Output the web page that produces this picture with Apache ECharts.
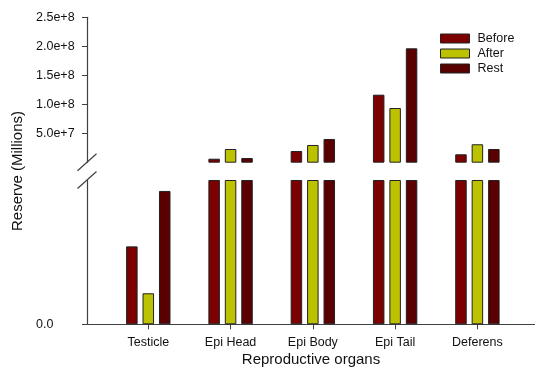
<!DOCTYPE html>
<html><head><meta charset="utf-8">
<script src="https://cdn.jsdelivr.net/npm/echarts@6/dist/echarts.min.js"></script>
<style>html,body{margin:0;padding:0;background:#fff}#c{width:535px;height:377px}</style>
</head><body><div id="c"></div>
<script>
// ---- data ----
const categories = ['Testicle', 'Epi Head', 'Epi Body', 'Epi Tail', 'Deferens'];
const seriesNames = ['Before', 'After', 'Rest'];
const before = [5.4e5, 7.0e6, 2.02e7, 1.17e8, 1.46e7];
const after  = [2.15e5, 2.37e7, 3.06e7, 9.41e7, 3.18e7];
const rest   = [9.24e5, 8.2e6, 4.09e7, 1.967e8, 2.37e7];
const breakValue = 1e6;           // axis break: lower part 0..breakValue, upper part breakValue..max
const upperMax = 2.5e8;
const upperTicks = [5e7, 1e8, 1.5e8, 2e8, 2.5e8];
const lowerTicks = [0];
const catPositions = [0, 1, 2, 3, 4];

// ---- layout/style ----
const FONT = 'Liberation Sans, Arial, sans-serif';
const colors = ['#7c0000', '#bcc100', '#5a0000'];
const axisColor = '#404040';
const gridLeft = 87, upperTop = 17.3, upperH = 144.9, lowerTop = 180, lowerH = 144.3;
const xMin = -0.745, xMax = 4.70;

const chart = echarts.init(document.getElementById('c'), null, {renderer: 'canvas'});
const allValues = [before, after, rest];

const series = [];
allValues.forEach((vals, k) => {
  const common = {
    name: seriesNames[k], type: 'bar', barWidth: 11.5, barGap: '43%',
    itemStyle: {color: colors[k], borderColor: '#222', borderWidth: 1},
    emphasis: {disabled: true}, animation: false
  };
  series.push(Object.assign({}, common, {
    xAxisIndex: 0, yAxisIndex: 0,
    data: vals.map((v, i) => v > breakValue ? [catPositions[i], v] : [catPositions[i], '-'])
  }));
  series.push(Object.assign({}, common, {
    xAxisIndex: 1, yAxisIndex: 1,
    data: vals.map((v, i) => [catPositions[i], Math.min(v, breakValue)])
  }));
});

const yAxisBase = {
  type: 'value', splitLine: {show: false},
  axisLine: {show: true, onZero: false, lineStyle: {color: axisColor, width: 1.2}},
  axisTick: {show: true, length: 5, lineStyle: {color: axisColor}},
  axisLabel: {color: '#111', fontFamily: FONT, fontSize: 12.5, align: 'left', margin: 51}
};

const option = {
  animation: false,
  backgroundColor: '#fff',
  grid: [
    {left: gridLeft, right: 0, top: upperTop, height: upperH},
    {left: gridLeft, right: 0, top: lowerTop, height: lowerH}
  ],
  legend: {
    data: seriesNames, orient: 'vertical', left: 440, top: 31, padding: 0,
    icon: 'rect',
    itemWidth: 29, itemHeight: 9, itemGap: 0,
    itemStyle: {borderColor: '#222', borderWidth: 1},
    textStyle: {fontFamily: FONT, fontSize: 12.5, color: '#111', lineHeight: 15, padding: [0, 0, 0, 3]},
    selectedMode: false
  },
  xAxis: [
    {type: 'value', gridIndex: 0, min: xMin, max: xMax, show: false},
    {type: 'value', gridIndex: 1, min: xMin, max: xMax,
     splitLine: {show: false},
     axisLine: {show: true, onZero: false, lineStyle: {color: axisColor, width: 1.2}},
     axisTick: {show: true, length: 5, customValues: catPositions, lineStyle: {color: axisColor}},
     axisLabel: {customValues: catPositions, formatter: v => categories[Math.round(v)],
                 color: '#111', fontFamily: FONT, fontSize: 12.5, margin: 12},
     name: 'Reproductive organs', nameLocation: 'middle', nameGap: 28,
     nameTextStyle: {fontFamily: FONT, fontSize: 15, color: '#111'}}
  ],
  yAxis: [
    Object.assign({}, yAxisBase, {gridIndex: 0, min: breakValue, max: upperMax,
      axisTick: Object.assign({}, yAxisBase.axisTick, {customValues: upperTicks}),
      axisLabel: Object.assign({}, yAxisBase.axisLabel, {customValues: upperTicks,
        formatter: v => v.toExponential(1)})}),
    Object.assign({}, yAxisBase, {gridIndex: 1, min: 0, max: breakValue,
      axisTick: Object.assign({}, yAxisBase.axisTick, {customValues: lowerTicks}),
      axisLabel: Object.assign({}, yAxisBase.axisLabel, {customValues: lowerTicks,
        formatter: v => v.toFixed(1)})})
  ],
  graphic: [
    {type: 'line', shape: {x1: gridLeft - 9.5, y1: upperTop + upperH + 8.5, x2: gridLeft + 9.5, y2: upperTop + upperH - 8.5},
     style: {stroke: axisColor, lineWidth: 1.2}},
    {type: 'line', shape: {x1: gridLeft - 9.5, y1: lowerTop + 8.5, x2: gridLeft + 9.5, y2: lowerTop - 8.5},
     style: {stroke: axisColor, lineWidth: 1.2}},
    {type: 'text', x: 18, y: 171, rotation: Math.PI / 2,
     style: {text: 'Reserve (Millions)', fontFamily: FONT, fontSize: 15, fill: '#111', align: 'center', verticalAlign: 'middle'}}
  ],
  series: series
};
chart.setOption(option);
</script>
</body></html>
